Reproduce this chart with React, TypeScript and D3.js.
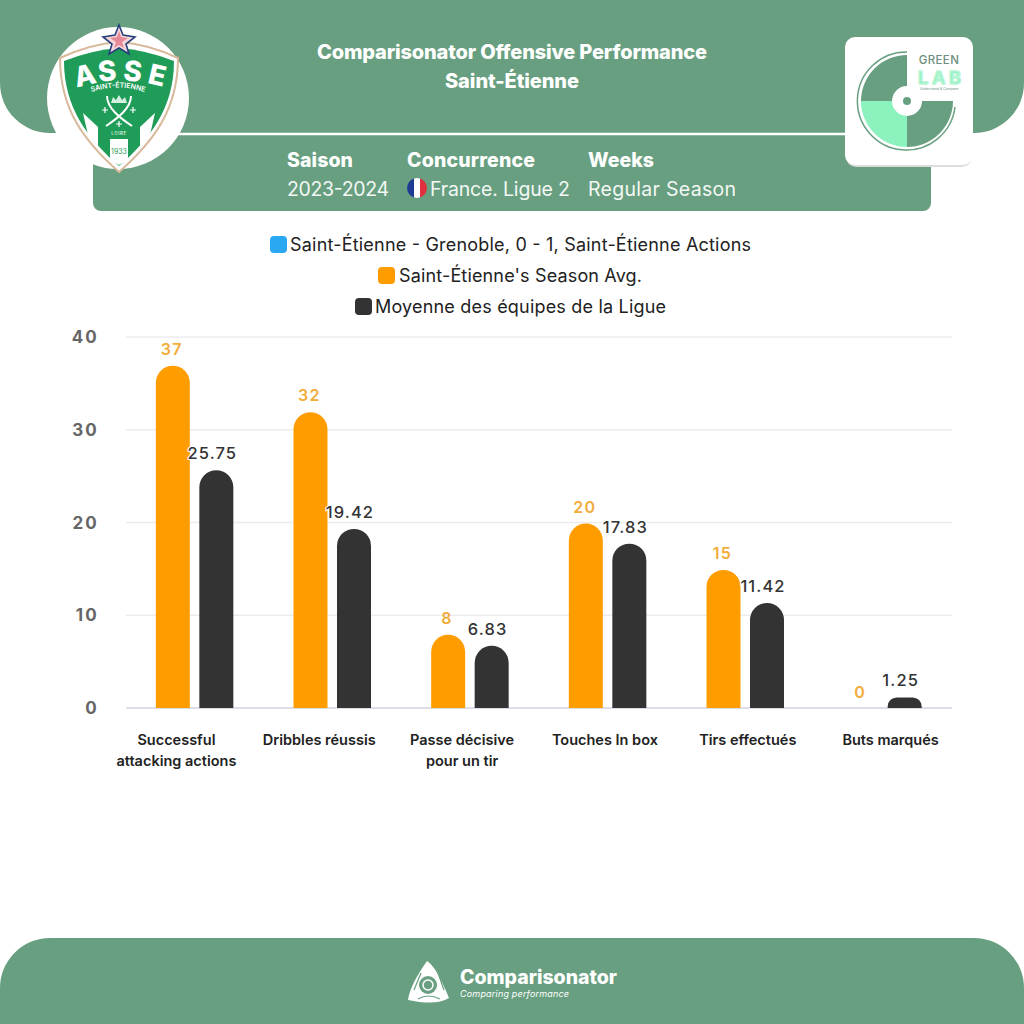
import React from "react";
import * as d3 from "d3";

const categories = [
  ["Successful", "attacking actions"],
  ["Dribbles réussis"],
  ["Passe décisive", "pour un tir"],
  ["Touches In box"],
  ["Tirs effectués"],
  ["Buts marqués"],
];
const seasonAvg = [37, 32, 8, 20, 15, 0];
const leagueAvg = [25.75, 19.42, 6.83, 17.83, 11.42, 1.25];
const yTicks = [0, 10, 20, 30, 40];
const legendLabels = [
  "Saint-Étienne - Grenoble, 0 - 1, Saint-Étienne Actions",
  "Saint-Étienne's Season Avg.",
  "Moyenne des équipes de la Ligue",
];

const GREEN = "#689f80";
const MINT = "#8cf2bd";
const ORANGE = "#ff9d00";
const DARK = "#333333";
const HEAD = "Inter, 'Noto Sans', sans-serif";

const x = d3.scaleBand<number>().domain(d3.range(categories.length)).range([126, 952]);
const labelX = d3.scaleBand<number>().domain(d3.range(categories.length)).range([105, 962]);
const y = d3.scaleLinear().domain([0, 40]).range([708, 337]);
const BW = 34;

function barPath(cx: number, v: number) {
  const top = y(v) + 1;
  const h = y(0) - top;
  const r = Math.min(BW / 2, h * 0.85);
  const l = cx - BW / 2;
  const rr = cx + BW / 2;
  return `M${l},${y(0)}V${top + r}A${r},${r} 0 0 1 ${l + r},${top}H${rr - r}A${r},${r} 0 0 1 ${rr},${top + r}V${y(0)}Z`;
}

const shieldOuter = "M60,58 Q90,44 119,42 Q148,44 178,58 C178,110 153,142 119,172 C85,142 60,110 60,58Z";
const shieldInner = "M64,61 Q92,50 119,48 Q146,50 174,61 C174,108 150,139 119,166 C88,139 64,108 64,61Z";

function Crest() {
  const letters: [string, number, number, number][] = [
    ["A", 87, 85, -13],
    ["S", 108, 81, -5],
    ["S", 132, 81, 5],
    ["E", 155, 85, 13],
  ];
  return (
    <g>
      <circle cx={118} cy={98} r={71} fill="#fff" />
      <path d={shieldOuter} fill="#fff" stroke="#d8b99a" strokeWidth={2} />
      <path d={shieldInner} fill="#1f9d58" />
      <polygon points="119,25 123,35 135,37 126,44 129,54 119,48 109,54 112,44 103,37 115,35" fill="#f6d5d8" stroke="#28407e" strokeWidth={1.6} />
      <polygon points="119,31 121,37 128,38 122,42 124,48 119,45 114,48 116,42 110,38 117,37" fill="#e58a96" />
      {letters.map(([c, lx, ly, rot], i) => (
        <text key={i} transform={`translate(${lx},${ly}) rotate(${rot})`} textAnchor="middle" fontFamily={HEAD} fontWeight={800} fontSize={28} fill="#fff">{c}</text>
      ))}
      <path id="crestArc" d="M86,94 Q118,81 150,94" fill="none" />
      <text fontFamily={HEAD} fontWeight={600} fontSize={7} fill="#fff" textAnchor="middle">
        <textPath href="#crestArc" startOffset="50%">SAINT-ÉTIENNE</textPath>
      </text>
      <path d="M107,96 C107,108 120,118 132,126 M131,96 C131,108 118,118 106,126" stroke="#fff" strokeWidth={2} fill="none" />
      <path d="M111,103 L113,97 L116,100 L119,95 L122,100 L125,97 L127,103Z" fill="#d5efe0" />
      <path d="M102,110 H108 M105,107 V113 M130,110 H136 M133,107 V113 M116,124 H122 M119,121 V127" stroke="#fff" strokeWidth={1.2} />
      <path d="M83,113 L98,127 V146 L88,135Z M155,113 L140,127 V146 L150,135Z" fill="#fff" />
      <path d="M110,139 H128 V160 L119,165 L110,160Z" fill="#fff" />
      <text x={119} y={135} textAnchor="middle" fontFamily={HEAD} fontSize={4.5} letterSpacing={0.6} fill="#fff">LOIRE</text>
      <text x={119} y={154} textAnchor="middle" fontFamily={HEAD} fontSize={7} fill="#1f9d58">1933</text>
    </g>
  );
}

function GreenLab() {
  const cx = 907, cy = 101;
  const arc = d3.arc();
  const quad = (a0: number, a1: number, fill: string, ro = 46) => (
    <path transform={`translate(${cx},${cy})`} fill={fill}
      d={arc({ innerRadius: 15, outerRadius: ro, startAngle: a0, endAngle: a1 }) as string} />
  );
  return (
    <g>
      <rect x={846} y={40} width={126} height={127} rx={10} fill="#dcdcdc" />
      <rect x={845} y={37} width={128} height={128} rx={10} fill="#fff" />
      {quad(-Math.PI / 2, 0, GREEN)}
      {quad(Math.PI, Math.PI * 1.5, MINT)}
      {quad(Math.PI / 2, Math.PI, GREEN)}
      <path d={`M${cx},${cy - 49} A49,49 0 1 0 ${cx + 48},${cy + 6}`} fill="none" stroke={GREEN} strokeWidth={1.5} />
      <circle cx={cx} cy={cy} r={4} fill={GREEN} />
      <text x={939} y={64} textAnchor="middle" fontFamily={HEAD} fontWeight={500} fontSize={11.5} letterSpacing={0.4} fill="#6d8f80">GREEN</text>
      <text x={939.5} y={84} textAnchor="middle" fontFamily={HEAD} fontWeight={700} fontSize={18} textLength={43} fill={MINT} stroke="#b9f5d6" strokeWidth={1.6} strokeLinejoin="round">LAB</text>
      <text x={939} y={90} textAnchor="middle" fontFamily={HEAD} fontSize={3.5} fill="#6d8f80">Understand &amp; Compare</text>
    </g>
  );
}

function FooterMark() {
  return (
    <g>
      <path d="M427,961 Q436,966 449,998 Q436,1006 408,1000 Q410,985 427,961Z" fill="#fff" />
      <circle cx={428} cy={985} r={9} fill={GREEN} />
      <circle cx={428} cy={985} r={5} fill="none" stroke="#fff" strokeWidth={1.5} />
      <path d="M414,990 L421,973 M438,973 L444,990 M418,999 Q428,993 440,999" stroke={GREEN} strokeWidth={1.2} fill="none" />
    </g>
  );
}

export default function App() {
  return (
    <svg width={1024} height={1024} viewBox="0 0 1024 1024"
      style={{ position: "absolute", left: 0, top: 0, background: "#fff" }}>
      <path d="M0,0H1024V83A50,50 0 0 1 974,133H50A50,50 0 0 1 0,83Z" fill={GREEN} />
      <path d="M93,133H931V203A8,8 0 0 1 923,211H101A8,8 0 0 1 93,203Z" fill={GREEN} />
      <line x1={170} x2={860} y1={134} y2={134} stroke="#fff" strokeWidth={2.5} />
      <path d="M0,1024V988A50,50 0 0 1 50,938H974A50,50 0 0 1 1024,988V1024Z" fill={GREEN} />

      <g fontFamily={HEAD} fill="#fff" textAnchor="middle" fontWeight={800} fontSize={20}>
        <text x={512} y={59} textLength={390}>Comparisonator Offensive Performance</text>
        <text x={512} y={88} textLength={134}>Saint-Étienne</text>
      </g>
      <g fontFamily={HEAD} fill="#fff" fontSize={19.5}>
        <text x={287} y={167} fontWeight={800} textLength={66}>Saison</text>
        <text x={407} y={167} fontWeight={800} textLength={128}>Concurrence</text>
        <text x={588} y={167} fontWeight={800} textLength={66}>Weeks</text>
        <text x={287} y={196} fontWeight={400} opacity={0.92} textLength={102}>2023-2024</text>
        <text x={430} y={196} fontWeight={400} opacity={0.92} textLength={140}>France. Ligue 2</text>
        <text x={588} y={196} fontWeight={400} opacity={0.92} textLength={148}>Regular Season</text>
      </g>
      <clipPath id="flag"><circle cx={417} cy={188} r={10} /></clipPath>
      <g clipPath="url(#flag)">
        <rect x={407} y={178} width={7} height={20} fill="#1f3a93" />
        <rect x={414} y={178} width={6} height={20} fill="#fff" />
        <rect x={420} y={178} width={7} height={20} fill="#e03040" />
      </g>

      <g fontFamily={HEAD} fontSize={18} fill="#222" fontWeight={400}>
        <rect x={270} y={236} width={17} height={17} rx={4} fill="#2aa8f2" />
        <text x={290} y={251} textLength={461}>{legendLabels[0]}</text>
        <rect x={378} y={267} width={17} height={17} rx={4} fill={ORANGE} />
        <text x={399} y={282} textLength={243}>{legendLabels[1]}</text>
        <rect x={355} y={298} width={17} height={17} rx={4} fill={DARK} />
        <text x={375} y={313} textLength={291}>{legendLabels[2]}</text>
      </g>

      {yTicks.map((t) => (
        <g key={t}>
          <line x1={126} x2={952} y1={y(t)} y2={y(t)} stroke={t === 0 ? "#dcdfe8" : "#ececec"} strokeWidth={t === 0 ? 2 : 1.5} />
          <text x={99} y={y(t) + 6} textAnchor="end" fontFamily={HEAD} fontWeight={700} fontSize={17} letterSpacing={2.2} fill="#666">{t}</text>
        </g>
      ))}

      {categories.map((c, i) => {
        const cx = x(i)! + x.bandwidth() / 2;
        const ox = cx - 22, dx = cx + 21.5;
        const lx = labelX(i)! + labelX.bandwidth() / 2;
        return (
          <g key={i}>
            {seasonAvg[i] > 0 && <path d={barPath(ox, seasonAvg[i])} fill={ORANGE} />}
            <path d={barPath(dx, leagueAvg[i])} fill={DARK} />
            <text x={ox - 1} y={y(seasonAvg[i]) - 10} textAnchor="middle" fontFamily={HEAD} fontWeight={600} fontSize={16} letterSpacing={1.4} fill="#f2ac3a">{seasonAvg[i]}</text>
            <text x={dx - 4} y={y(leagueAvg[i]) - 10} textAnchor="middle" fontFamily={HEAD} fontWeight={500} fontSize={16.5} letterSpacing={1.1} fill={DARK}
              stroke="#fff" strokeWidth={2} paintOrder="stroke">{leagueAvg[i]}</text>
            {c.map((line, k) => (
              <text key={k} x={lx} y={745 + k * 21} textAnchor="middle" fontFamily={HEAD} fontWeight={600} fontSize={14.5} fill="#222">{line}</text>
            ))}
          </g>
        );
      })}

      <FooterMark />
      <text x={460} y={984} fontFamily={HEAD} fontWeight={800} fontSize={19.5} textLength={157} fill="#fff">Comparisonator</text>
      <text x={460} y={997} fontFamily={HEAD} fontStyle="italic" fontSize={9} textLength={109} fill="#fff">Comparing performance</text>

      <Crest />
      <GreenLab />
    </svg>
  );
}
